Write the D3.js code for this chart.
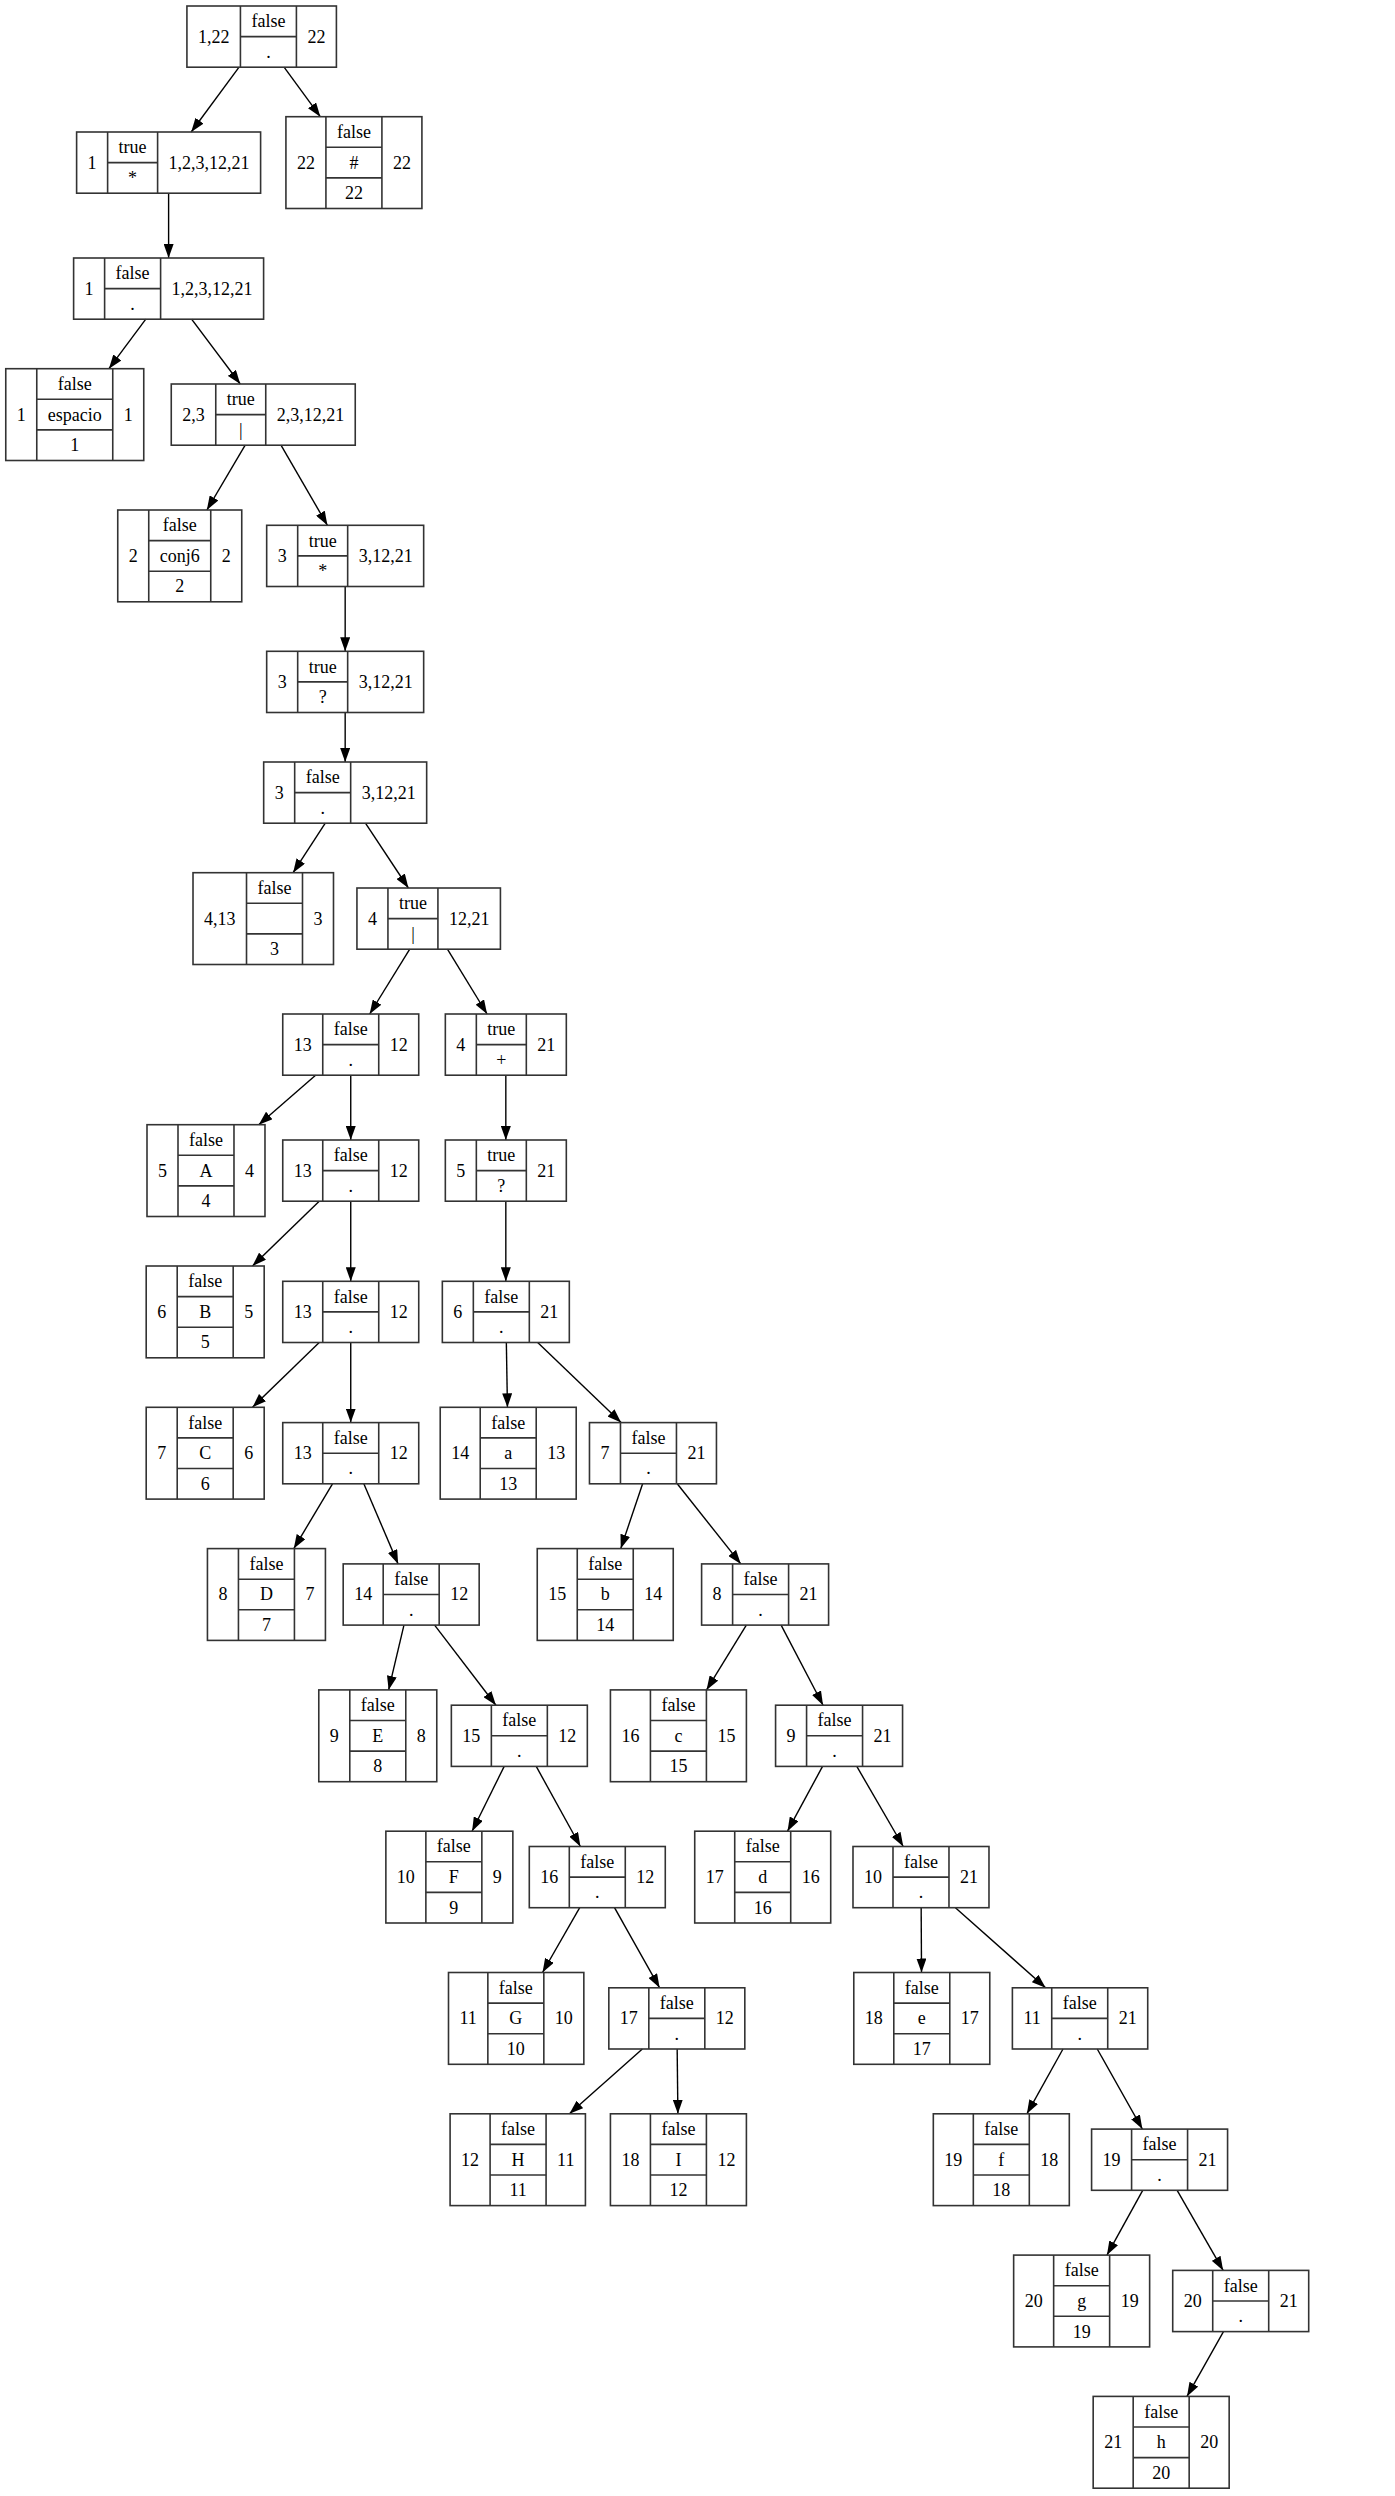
<!DOCTYPE html>
<meta charset="utf-8">
<title>arbol</title>
<style>
  body { margin: 0; background: #fff; }
  text { font-family: 'Liberation Serif', 'Times New Roman', serif; font-size: 18px; fill: #000; }
  .box { fill: none; stroke: #333; stroke-width: 1.6px; }
  .edge { stroke: #000; stroke-width: 1.4px; fill: none; }
</style>
<svg width="1395" height="2496"></svg>
<script src="https://cdn.jsdelivr.net/npm/d3@7"></script>
<script>
// node fields
var nodeLeft   = ["1,22","1","22","1","1","2,3","2","3","3","3","4,13","4","13","4","5","13","5","6","13","6","7","13","14","7","8","14","15","8","9","15","16","9","10","16","17","10","11","17","18","11","12","18","19","19","20","20","21"];
var nodeTop    = ["false","true","false","false","false","true","false","true","true","false","false","true","false","true","false","false","true","false","false","false","false","false","false","false","false","false","false","false","false","false","false","false","false","false","false","false","false","false","false","false","false","false","false","false","false","false","false"];
var nodeMid    = [".","*","#",".","espacio","|","conj6","*","?","."," ","|",".","+","A",".","?","B",".",".","C",".","a",".","D",".","b",".","E",".","c",".","F",".","d",".","G",".","e",".","H","I","f",".","g",".","h","i"];
var nodeBottom = [null,null,"22",null,"1",null,"2",null,null,null,"3",null,null,null,"4",null,null,"5",null,null,"6",null,"13",null,"7",null,"14",null,"8",null,"15",null,"9",null,"16",null,"10",null,"17",null,"11","12","18",null,"19",null,"20","21"];
var nodeRight  = ["22","1,2,3,12,21","22","1,2,3,12,21","1","2,3,12,21","2","3,12,21","3,12,21","3,12,21","3","12,21","12","21","4","12","21","5","12","21","6","12","13","21","7","12","14","21","8","12","15","21","9","12","16","21","10","12","17","21","11","12","18","21","19","21","20","21"];
var nodeParent = [-1,0,0,1,3,3,5,5,7,8,9,9,11,11,12,12,13,15,15,16,18,18,19,19,21,21,23,23,25,25,27,27,29,29,31,31,33,33,35,35,37,37,39,39,43,43,45,45];
// horizontal centre of each node, read in units of the small picture
var nodeCx     = [164.5,106,222.5,106,47,165.5,113,217,217,217,165.5,269.5,220.5,318,129.5,220.5,318,129,220.5,318,129,220.5,319.5,410.5,167.5,258.5,380.5,481,237.5,326.5,426.5,527.5,282.5,375.5,479.5,579,324.5,425.5,579.5,679,325.5,426.5,629.5,729,680,780,730,830];

var svg = d3.select("svg");
var rowH = 30.6, pad = 22, gap = 49.5, top0 = 6;
var x = d3.scaleLinear().domain([0, 877]).range([0, 1395]);

// measure text widths
var probe = svg.append("text").attr("x", -1000).attr("y", -1000);
function tw(s) { probe.text(s); return s.trim() === "" ? 0 : probe.node().getComputedTextLength(); }

var nodes = nodeLeft.map(function(l, i) {
  var n = { i: i, left: l, top: nodeTop[i], mid: nodeMid[i], bottom: nodeBottom[i], right: nodeRight[i], parent: nodeParent[i] };
  n.leaf = n.bottom !== null;
  n.wl = tw(l) + pad;
  n.wr = tw(n.right) + pad;
  n.wm = d3.max([n.top, n.mid, n.leaf ? n.bottom : ""], tw) + pad;
  n.w = n.wl + n.wm + n.wr;
  n.h = (n.leaf ? 3 : 2) * rowH;
  n.cx = x(nodeCx[i]);
  return n;
});
probe.remove();
nodes.forEach(function(n) { n.depth = n.parent < 0 ? 0 : nodes[n.parent].depth + 1; });

// rank centres: each rank as tall as its tallest node
var ranks = d3.range(d3.max(nodes, function(n) { return n.depth; }) + 1);
var rankH = ranks.map(function(r) { return d3.max(nodes.filter(function(n) { return n.depth === r; }), function(n) { return n.h; }); });
var rankY = [], acc = top0;
ranks.forEach(function(r) { rankY.push(acc + rankH[r] / 2); acc += rankH[r] + gap; });
nodes.forEach(function(n) { n.cy = rankY[n.depth]; n.x0 = n.cx - n.w / 2; n.y0 = n.cy - n.h / 2; });

svg.append("defs").append("marker")
  .attr("id", "arrow").attr("viewBox", "0 0 14 10").attr("refX", 14).attr("refY", 5)
  .attr("markerWidth", 14).attr("markerHeight", 10).attr("markerUnits", "userSpaceOnUse")
  .attr("orient", "auto")
  .append("path").attr("d", "M0,0L14,5L0,10Z").attr("fill", "#000");

// clip a ray from the node centre towards (dx,dy) at the box border
function clip(n, dx, dy) {
  var t = Math.min(Math.abs((n.w / 2) / (dx || 1e-9)), Math.abs((n.h / 2) / (dy || 1e-9)));
  return [n.cx + dx * t, n.cy + dy * t];
}

svg.append("g").selectAll("line")
  .data(nodes.filter(function(n) { return n.parent >= 0; }))
  .enter().append("line")
  .attr("class", "edge")
  .attr("marker-end", "url(#arrow)")
  .each(function(c) {
    var p = nodes[c.parent], dx = c.cx - p.cx, dy = c.cy - p.cy;
    var a = clip(p, dx, dy), b = clip(c, -dx, -dy);
    d3.select(this).attr("x1", a[0]).attr("y1", a[1]).attr("x2", b[0]).attr("y2", b[1]);
  });

var g = svg.append("g").selectAll("g").data(nodes).enter().append("g")
  .attr("transform", function(n) { return "translate(" + n.x0 + "," + n.y0 + ")"; });

g.append("rect").attr("class", "box")
  .attr("width", function(n) { return n.w; }).attr("height", function(n) { return n.h; });

g.each(function(n) {
  var s = d3.select(this), rows = n.leaf ? 3 : 2;
  s.append("line").attr("class", "box").attr("x1", n.wl).attr("x2", n.wl).attr("y2", n.h);
  s.append("line").attr("class", "box").attr("x1", n.wl + n.wm).attr("x2", n.wl + n.wm).attr("y2", n.h);
  d3.range(1, rows).forEach(function(k) {
    s.append("line").attr("class", "box").attr("x1", n.wl).attr("x2", n.wl + n.wm).attr("y1", k * rowH).attr("y2", k * rowH);
  });
  function label(t, cx, cy) {
    s.append("text").attr("x", cx).attr("y", cy).attr("text-anchor", "middle").attr("dy", "0.33em").text(t);
  }
  label(n.left, n.wl / 2, n.h / 2);
  label(n.right, n.wl + n.wm + n.wr / 2, n.h / 2);
  var cells = n.leaf ? [n.top, n.mid, n.bottom] : [n.top, n.mid];
  cells.forEach(function(t, k) { label(t, n.wl + n.wm / 2, (k + 0.5) * rowH); });
});
</script>
